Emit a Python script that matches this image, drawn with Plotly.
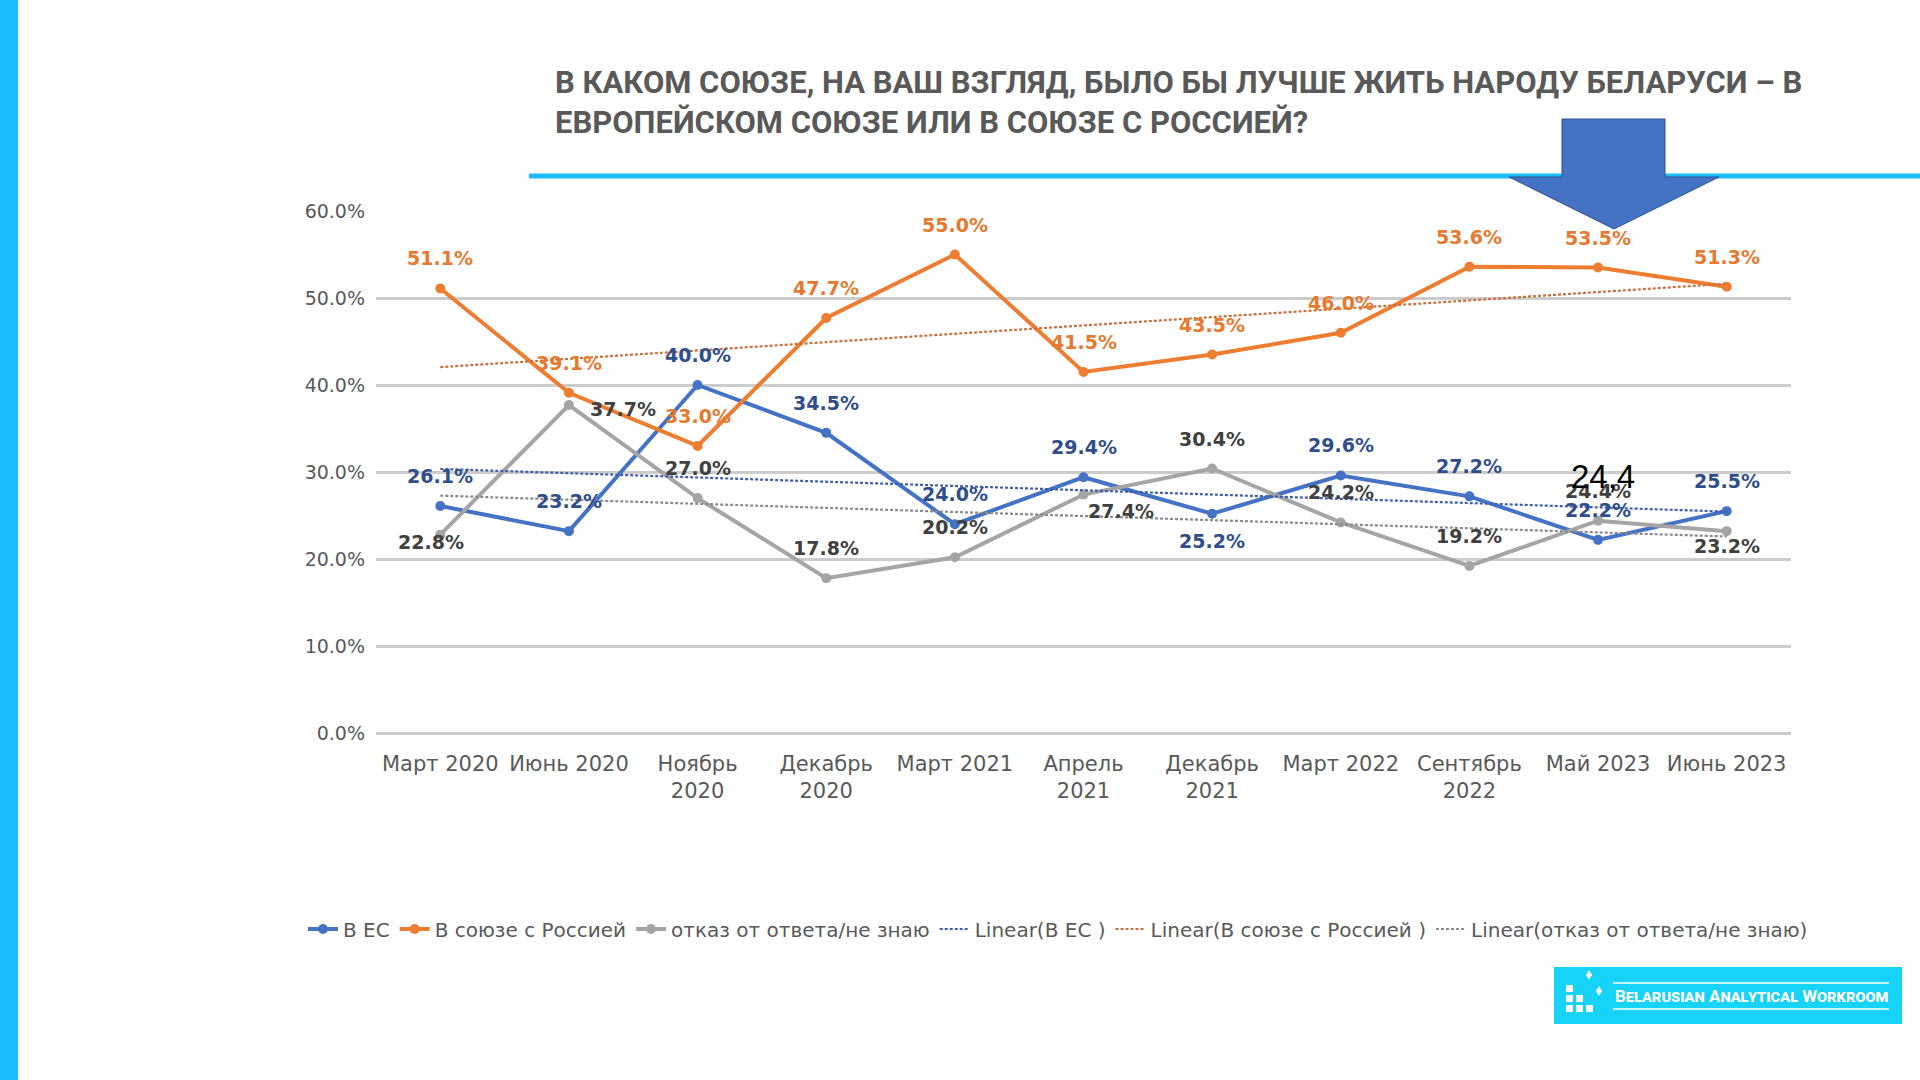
import numpy as np
import plotly.graph_objects as go

# ---------------- data ----------------
categories = ["Март 2020", "Июнь 2020", "Ноябрь<br>2020", "Декабрь<br>2020", "Март 2021",
              "Апрель<br>2021", "Декабрь<br>2021", "Март 2022", "Сентябрь<br>2022",
              "Май 2023", "Июнь 2023"]
eu = [26.1, 23.2, 40.0, 34.5, 24.0, 29.4, 25.2, 29.6, 27.2, 22.2, 25.5]
russia = [51.1, 39.1, 33.0, 47.7, 55.0, 41.5, 43.5, 46.0, 53.6, 53.5, 51.3]
dontknow = [22.8, 37.7, 27.0, 17.8, 20.2, 27.4, 30.4, 24.2, 19.2, 24.4, 23.2]
y_ticks = [0, 10, 20, 30, 40, 50, 60]
y_ticktext = [f"{v:.1f}%" for v in y_ticks]

names = ["В ЕС", "В союзе с Россией", "отказ от ответа/не знаю"]
trend_names = ["Linear(В ЕС )", "Linear(В союзе с Россией )", "Linear(отказ от ответа/не знаю)"]
title_text = ("В КАКОМ СОЮЗЕ, НА ВАШ ВЗГЛЯД, БЫЛО БЫ ЛУЧШЕ ЖИТЬ НАРОДУ БЕЛАРУСИ – В<br>"
              "ЕВРОПЕЙСКОМ СОЮЗЕ ИЛИ В СОЮЗЕ С РОССИЕЙ?")
handwritten_note = "24,4"
logo_text = "Belarusian Analytical Workroom"

# ---------------- style ----------------
line_colors = ["#4472C4", "#ED7D31", "#A5A5A5"]
label_colors = ["#2F4E8C", "#E57A30", "#404040"]
trend_colors = ["#3F5FA8", "#C8703A", "#8A8A8A"]
FONT = "DejaVu Sans"
GRAY_TXT = "#595959"

# label offsets (pixels, dx, dy downward positive); default: above the point
ABOVE = (0, -30)
eu_off = [ABOVE] * 11
eu_off[6] = (0, 27)
ru_off = [ABOVE] * 11
dk_off = [ABOVE] * 11
dk_off[0] = (-9, 7)
dk_off[1] = (54, 4)
dk_off[5] = (37, 16)
dk_off[10] = (0, 15)

# plot area in page pixels
L, R, T, B = 376, 1791, 211, 733


def px(x):
    return (x - L) / (R - L)


def py(y):
    return (B - y) / (B - T)


fig = go.Figure()
series = [eu, russia, dontknow]
for vals, nm, c in zip(series, names, line_colors):
    fig.add_trace(go.Scatter(x=categories, y=vals, name=nm, mode="lines+markers",
                             line=dict(color=c, width=4),
                             marker=dict(color=c, size=10, symbol="circle")))

idx = np.arange(len(categories))
for vals, nm, c in zip(series, trend_names, trend_colors):
    k, b0 = np.polyfit(idx, np.array(vals), 1)
    fig.add_trace(go.Scatter(x=categories, y=(k * idx + b0).tolist(), name=nm, mode="lines",
                             line=dict(color=c, width=2.2, dash="3px,2px"),
                             hoverinfo="skip"))

annotations = []
for vals, offs, c in zip(series, [eu_off, ru_off, dk_off], label_colors):
    for cat, v, (dx, dy) in zip(categories, vals, offs):
        annotations.append(dict(x=cat, y=v, xref="x", yref="y", text=f"<b>{v:.1f}%</b>",
                                showarrow=False, xshift=dx, yshift=-dy,
                                font=dict(family=FONT, size=19, color=c)))

# title
annotations.append(dict(x=px(553), y=py(102), xref="paper", yref="paper", text=f"<b>{title_text}</b>",
                        showarrow=False, xanchor="left", yanchor="middle", align="left",
                        font=dict(family="Roboto", size=31, color=GRAY_TXT)))
# handwritten note
annotations.append(dict(x=px(1603), y=py(476), xref="paper", yref="paper", text=handwritten_note,
                        showarrow=False, xanchor="center", yanchor="middle",
                        font=dict(family="Liberation Sans", size=33, color="#000000")))
# logo text
annotations.append(dict(x=px(1751), y=py(996), xref="paper", yref="paper", text=f"<b>{logo_text}</b>",
                        showarrow=False, xanchor="center", yanchor="middle",
                        font=dict(family="Roboto", size=17, color="#FFFFFF", variant="small-caps")))

shapes = []
# left cyan bar
shapes.append(dict(type="rect", xref="paper", yref="paper", x0=px(0), x1=px(18), y0=py(1080), y1=py(0),
                   fillcolor="#1BBCFF", line=dict(width=0), layer="below"))
# title underline
shapes.append(dict(type="rect", xref="paper", yref="paper", x0=px(529), x1=px(1920), y0=py(178.5), y1=py(173.5),
                   fillcolor="#1BBCFF", line=dict(width=0)))
# arrow
pts = [(1562, 119), (1665, 119), (1665, 177), (1719, 177), (1614, 229), (1509, 177), (1562, 177)]
path = "M " + " L ".join(f"{px(a):.5f},{py(b):.5f}" for a, b in pts) + " Z"
shapes.append(dict(type="path", xref="paper", yref="paper", path=path,
                   fillcolor="#4472C4", line=dict(color="#2F528F", width=1)))
# logo box
shapes.append(dict(type="rect", xref="paper", yref="paper", x0=px(1554), x1=px(1902), y0=py(1024), y1=py(967),
                   fillcolor="#17D3F8", line=dict(width=0)))
for yy in (983, 1009):
    shapes.append(dict(type="line", xref="paper", yref="paper", x0=px(1613), x1=px(1889), y0=py(yy), y1=py(yy),
                       line=dict(color="#FFFFFF", width=1.5)))
sq = 7
for col, row in [(0, 0), (0, 1), (1, 1), (0, 2), (1, 2), (2, 2)]:
    x0 = 1566 + col * 10
    y0 = 985 + row * 10
    shapes.append(dict(type="rect", xref="paper", yref="paper", x0=px(x0), x1=px(x0 + sq),
                       y0=py(y0 + sq), y1=py(y0), fillcolor="#FFFFFF", line=dict(width=0)))
for cx, cy in [(1589, 975), (1599, 991)]:
    d = 4.5
    p = [(cx, cy - d), (cx + d * 0.7, cy), (cx, cy + d), (cx - d * 0.7, cy)]
    shapes.append(dict(type="path", xref="paper", yref="paper",
                       path="M " + " L ".join(f"{px(a):.5f},{py(b):.5f}" for a, b in p) + " Z",
                       fillcolor="#FFFFFF", line=dict(width=0)))

fig.update_layout(
    width=1920, height=1080,
    margin=dict(l=L, r=1920 - R, t=T, b=1080 - B, pad=0),
    paper_bgcolor="#FFFFFF", plot_bgcolor="#FFFFFF",
    font=dict(family=FONT, color=GRAY_TXT),
    showlegend=True,
    legend=dict(orientation="h", x=px(303), y=py(929), xanchor="left", yanchor="middle",
                font=dict(family=FONT, size=20, color=GRAY_TXT), itemwidth=30,
                bgcolor="rgba(0,0,0,0)"),
    annotations=annotations,
    shapes=shapes,
)
fig.update_xaxes(type="category", range=[-0.5, 10.5], showgrid=False, showline=False, ticks="",
                 zeroline=False, tickfont=dict(family=FONT, size=21, color=GRAY_TXT),
                 ticklabelstandoff=16)
fig.update_yaxes(range=[0, 60], tickvals=y_ticks, ticktext=y_ticktext,
                 showgrid=True, gridcolor="#CCCCCC", gridwidth=2.5, zeroline=True,
                 zerolinecolor="#CCCCCC", zerolinewidth=2.5, showline=False, ticks="",
                 tickfont=dict(family=FONT, size=19, color=GRAY_TXT), ticklabelstandoff=10)

fig.write_html("out.html", config={"displayModeBar": False},
               post_script="document.body.style.margin='0';document.body.style.overflow='hidden';")
